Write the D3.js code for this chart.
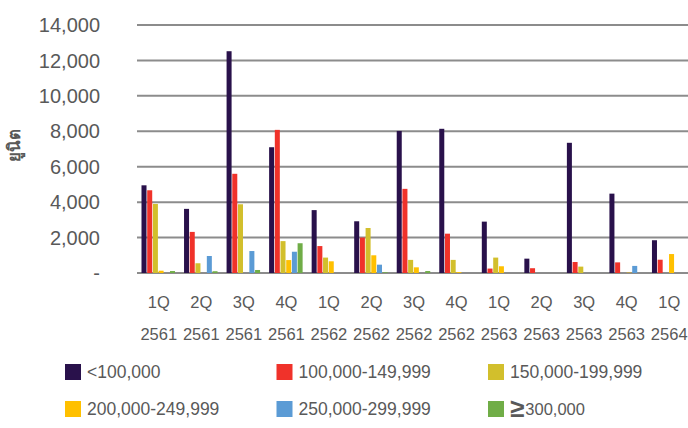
<!DOCTYPE html>
<html>
<head>
<meta charset="utf-8">
<script src="https://cdn.jsdelivr.net/npm/d3@7"></script>
<style>
  body { margin: 0; background: #fff; }
  svg { display: block; font-family: "Liberation Sans", Arial, sans-serif; }
</style>
</head>
<body>
<svg id="chart" width="688" height="428"></svg>
<script>
const quarters = ["1Q", "2Q", "3Q", "4Q", "1Q", "2Q", "3Q", "4Q", "1Q", "2Q", "3Q", "4Q", "1Q"];
const years = ["2561", "2561", "2561", "2561", "2562", "2562", "2562", "2562", "2563", "2563", "2563", "2563", "2564"];

const seriesNames = ["<100,000", "100,000-149,999", "150,000-199,999", "200,000-249,999", "250,000-299,999", "300,000"];
const seriesColors = ["#29114b", "#f0322a", "#d2bf2c", "#ffc000", "#5b9bd5", "#70ad47"];

const under100k = [4950, 3620, 12520, 7100, 3550, 2920, 8020, 8140, 2900, 810, 7350, 4480, 1850];
const r100to150k = [4670, 2320, 5600, 8080, 1520, 2000, 4750, 2220, 250, 270, 620, 600, 750];
const r150to200k = [3900, 550, 3880, 1800, 870, 2540, 740, 740, 870, 0, 360, 0, 0];
const r200to250k = [130, 0, 0, 730, 660, 1000, 320, 50, 380, 0, 0, 20, 1070];
const r250to300k = [0, 960, 1240, 1200, 0, 470, 0, 0, 0, 0, 0, 400, 0];
const over300k = [110, 100, 170, 1680, 0, 40, 110, 0, 0, 0, 0, 0, 0];

const series = [under100k, r100to150k, r150to200k, r200to250k, r250to300k, over300k];
const yTicks = [0, 2000, 4000, 6000, 8000, 10000, 12000, 14000];

const svg = d3.select("#chart");
const plotLeft = 137, plotRight = 690, plotTop = 25, plotBottom = 273;

const x0 = d3.scaleBand().domain(d3.range(quarters.length)).range([plotLeft, plotRight]).padding(0);
const x1 = d3.scaleBand().domain(d3.range(series.length)).range([4.5, 38]).paddingInner(0.12);
const y = d3.scaleLinear().domain([0, 14000]).range([plotBottom, plotTop]);

// gridlines
svg.append("g")
  .selectAll("line")
  .data(yTicks)
  .join("line")
  .attr("x1", plotLeft)
  .attr("x2", 688)
  .attr("y1", (d) => y(d))
  .attr("y2", (d) => y(d))
  .attr("stroke", "#8c8c8c")
  .attr("stroke-width", 2);

// y labels
svg.append("g")
  .selectAll("text")
  .data(yTicks)
  .join("text")
  .attr("x", 100)
  .attr("y", (d) => y(d))
  .attr("dy", "0.36em")
  .attr("text-anchor", "end")
  .attr("font-size", 20)
  .attr("fill", "#595959")
  .text((d) => (d === 0 ? "-" : d3.format(",")(d)));

svg.append("text")
  .attr("transform", "translate(20,145) rotate(-90)")
  .attr("text-anchor", "middle")
  .attr("font-size", 17)
  .attr("font-weight", "bold")
  .attr("fill", "#595959")
  .attr("font-family", "'Noto Sans', 'DejaVu Sans', sans-serif")
  .text("ยูนิต");

// bars
const groups = svg.append("g")
  .selectAll("g")
  .data(quarters.map((q, i) => i))
  .join("g")
  .attr("transform", (i) => `translate(${x0(i)},0)`);

groups.selectAll("rect")
  .data((i) => series.map((s, k) => ({ k, v: s[i] })).filter((d) => d.v > 0))
  .join("rect")
  .attr("x", (d) => x1(d.k))
  .attr("width", x1.bandwidth())
  .attr("y", (d) => y(d.v))
  .attr("height", (d) => plotBottom - y(d.v))
  .attr("fill", (d) => seriesColors[d.k]);

// x labels
const xl = svg.append("g")
  .selectAll("g")
  .data(quarters.map((q, i) => i))
  .join("g")
  .attr("transform", (i) => `translate(${x0(i) + x0.bandwidth() / 2 + 0.5},0)`)
  .attr("fill", "#595959")
  .attr("font-size", 16.5)
  .attr("text-anchor", "middle");
xl.append("text").attr("y", 308).text((i) => quarters[i]);
xl.append("text").attr("y", 340).text((i) => years[i]);

// legend
const legend = svg.append("g")
  .selectAll("g")
  .data(seriesNames)
  .join("g")
  .attr("transform", (d, i) => `translate(${65 + (i % 3) * 211.5},${i < 3 ? 364 : 401})`);
legend.append("rect")
  .attr("width", 16)
  .attr("height", 16)
  .attr("fill", (d, i) => seriesColors[i]);
const lt = legend.append("text")
  .attr("x", 22)
  .attr("y", 13.5)
  .attr("font-size", 17.5)
  .attr("fill", "#595959");
lt.filter((d, i) => i === 5).append("tspan").attr("font-size", 26).attr("font-weight", "bold").attr("dy", 2).text("≥");
lt.filter((d, i) => i === 5).append("tspan").attr("font-size", 16.5).attr("dy", -2).attr("dx", 1).text((d) => d);
lt.filter((d, i) => i !== 5).text((d) => d);
</script>
</body>
</html>
